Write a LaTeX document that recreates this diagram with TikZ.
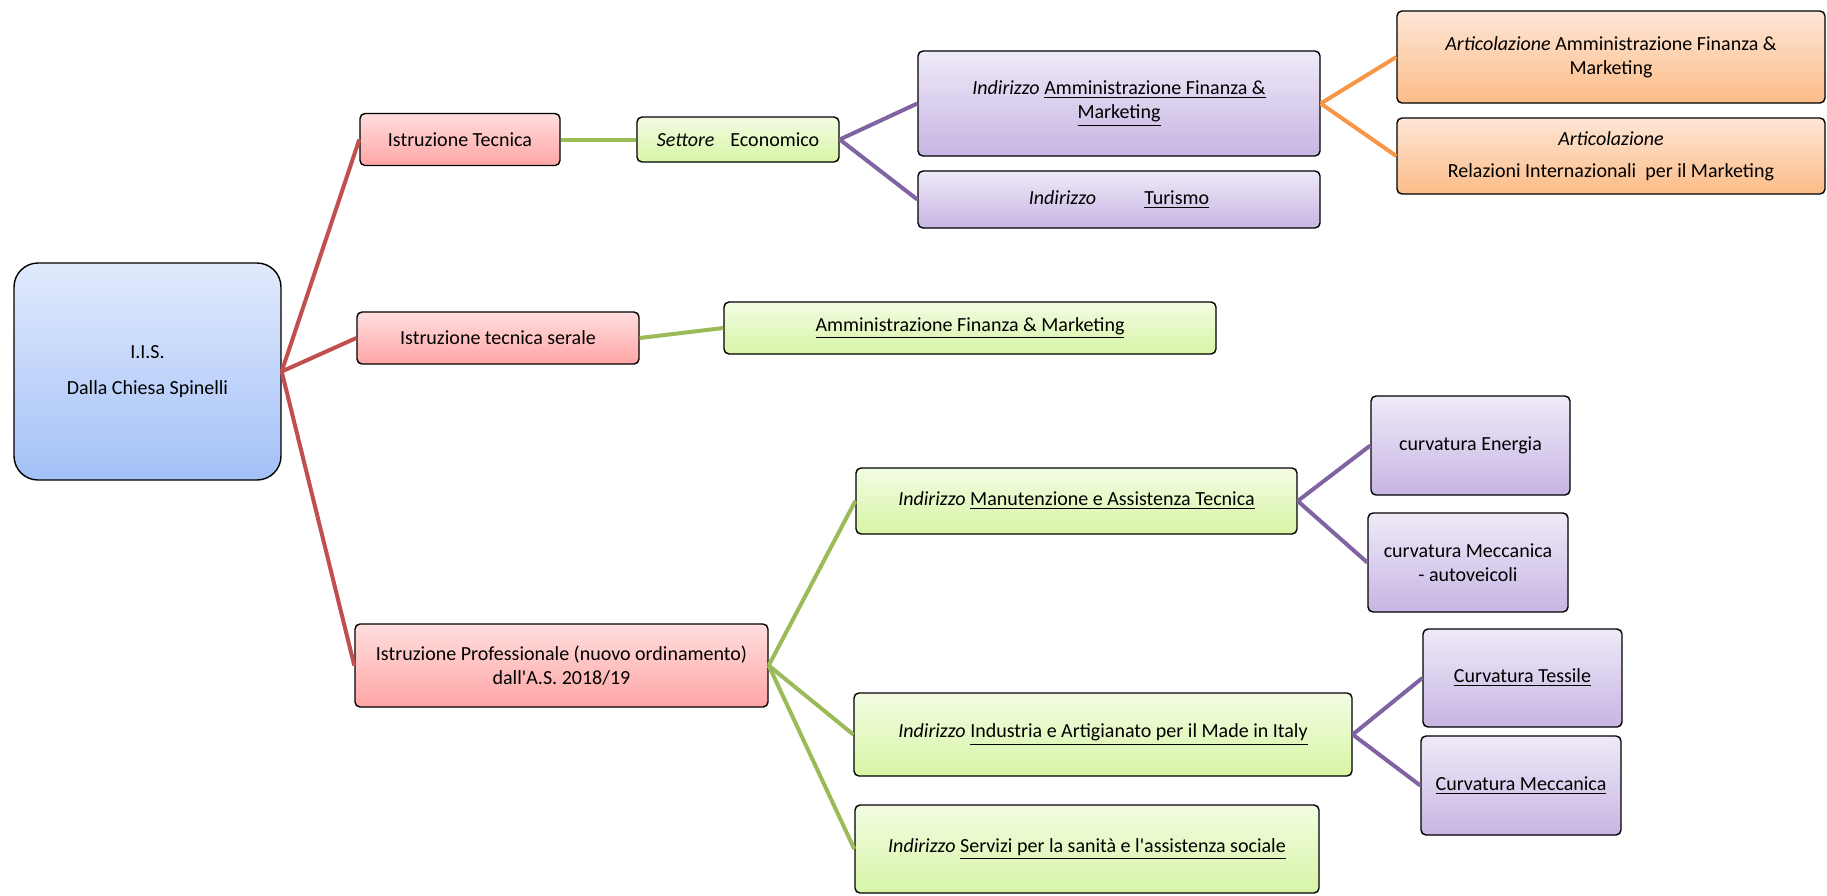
\documentclass[tikz,border=0pt]{standalone}
\usepackage{fontspec}
\setmainfont{Carlito}
\usepackage{tikz}
\usetikzlibrary{positioning}

\definecolor{lnred}{HTML}{C0504D}
\definecolor{lngreen}{HTML}{9BBB59}
\definecolor{lnpurple}{HTML}{8064A2}
\definecolor{lnorange}{HTML}{F79646}
\definecolor{bluetop}{HTML}{E1EAFC}
\definecolor{bluebot}{HTML}{A3C1F8}
\definecolor{redtop}{HTML}{FFDEDE}
\definecolor{redbot}{HTML}{FFA5A5}
\definecolor{greentop}{HTML}{F3FCE3}
\definecolor{greenbot}{HTML}{D7F5A5}
\definecolor{purpletop}{HTML}{EFEAF8}
\definecolor{purplebot}{HTML}{C7B5E3}
\definecolor{orangetop}{HTML}{FEE6D6}
\definecolor{orangebot}{HTML}{FBBC87}

\begin{document}
\begin{tikzpicture}[x=0.5pt, y=-0.5pt, font=\fontsize{10}{12}\selectfont,
    box/.style={draw=black, line width=0.7pt, rounded corners=2.5pt, align=center, inner sep=2pt},
    bluebox/.style={box, top color=bluetop, bottom color=bluebot, rounded corners=12pt},
    redbox/.style={box, top color=redtop, bottom color=redbot},
    greenbox/.style={box, top color=greentop, bottom color=greenbot},
    purplebox/.style={box, top color=purpletop, bottom color=purplebot},
    orangebox/.style={box, top color=orangetop, bottom color=orangebot},
    redline/.style={draw=lnred, line width=2pt},
    greenline/.style={draw=lngreen, line width=2pt},
    purpleline/.style={draw=lnpurple, line width=2pt},
    orangeline/.style={draw=lnorange, line width=2pt}]
    \useasboundingbox (0,0) rectangle (1827,895);

    % Nodes {root, first level}
    \node [bluebox, minimum width=133.5pt, minimum height=108.5pt] (iis) at (147.5,371.5) {I.I.S.\\[6pt] Dalla Chiesa Spinelli};
    \node [redbox, minimum width=100pt, minimum height=26pt]   (tec)  at (460,139.5) {Istruzione Tecnica};
    \node [redbox, minimum width=141pt, minimum height=26pt]   (ser)  at (498,338)   {Istruzione tecnica serale};
    \node [redbox, minimum width=206.5pt, minimum height=41.5pt] (prof) at (561.5,665.5) {Istruzione Professionale (nuovo ordinamento)\\ dall\textquotesingle A.S. 2018/19};

    % Nodes {settore, indirizzi}
    \node [greenbox, minimum width=101pt, minimum height=22.5pt] (sett) at (738,139.5) {\textit{Settore}\hspace{8pt}Economico};
    \node [purplebox, minimum width=201pt, minimum height=52.5pt] (afm) at (1119,103.5) {\textit{Indirizzo} \underline{Amministrazione Finanza \&}\\ \underline{Marketing}};
    \node [purplebox, minimum width=201pt, minimum height=28.5pt] (tur) at (1119,199.5) {\textit{Indirizzo}\hspace{24pt}\underline{Turismo}};
    \node [orangebox, minimum width=214pt, minimum height=46pt] (artafm) at (1611,57) {\textit{Articolazione} Amministrazione Finanza \&\\ Marketing};
    \node [orangebox, minimum width=214pt, minimum height=38pt] (artrim) at (1611,156) {\textit{Articolazione}\\[4pt] Relazioni Internazionali\ \ per il Marketing};
    \node [greenbox, minimum width=246pt, minimum height=26pt] (serafm) at (970,328) {\underline{Amministrazione Finanza \& Marketing}};

    % Nodes {professionale}
    \node [greenbox, minimum width=220.5pt, minimum height=33pt]  (man) at (1076.5,501) {\textit{Indirizzo} \underline{Manutenzione e Assistenza Tecnica}};
    \node [greenbox, minimum width=249pt, minimum height=41.5pt]  (ind) at (1103,734.5) {\textit{Indirizzo} \underline{Industria e Artigianato per il Made in Italy}};
    \node [greenbox, minimum width=232pt, minimum height=44pt]    (srv) at (1087,849)   {\textit{Indirizzo} \underline{Servizi per la sanità e l\textquotesingle assistenza sociale}};
    \node [purplebox, minimum width=99.5pt, minimum height=49.5pt] (cen) at (1470.5,445.5) {curvatura Energia};
    \node [purplebox, minimum width=100pt, minimum height=49.5pt]  (cma) at (1468,562.5)   {curvatura Meccanica\\ - autoveicoli};
    \node [purplebox, minimum width=99.5pt, minimum height=49pt]   (cte) at (1522.5,678)   {\underline{Curvatura Tessile}};
    \node [purplebox, minimum width=100pt, minimum height=49.5pt]  (cme) at (1521,785.5)   {\underline{Curvatura Meccanica}};

    % Paths
    \path [redline] (iis.east) edge (tec.west);
    \path [redline] (iis.east) edge (ser.west);
    \path [redline] (iis.east) edge (prof.west);
    \path [greenline] (tec.east) edge (sett.west);
    \path [greenline] (ser.east) edge (serafm.west);
    \path [purpleline] (sett.east) edge (afm.west);
    \path [purpleline] (sett.east) edge (tur.west);
    \path [orangeline] (afm.east) edge (artafm.west);
    \path [orangeline] (afm.east) edge (artrim.west);
    \path [greenline] (prof.east) edge (man.west);
    \path [greenline] (prof.east) edge (ind.west);
    \path [greenline] (prof.east) edge (srv.west);
    \path [purpleline] (man.east) edge (cen.west);
    \path [purpleline] (man.east) edge (cma.west);
    \path [purpleline] (ind.east) edge (cte.west);
    \path [purpleline] (ind.east) edge (cme.west);

\end{tikzpicture}
\end{document}
